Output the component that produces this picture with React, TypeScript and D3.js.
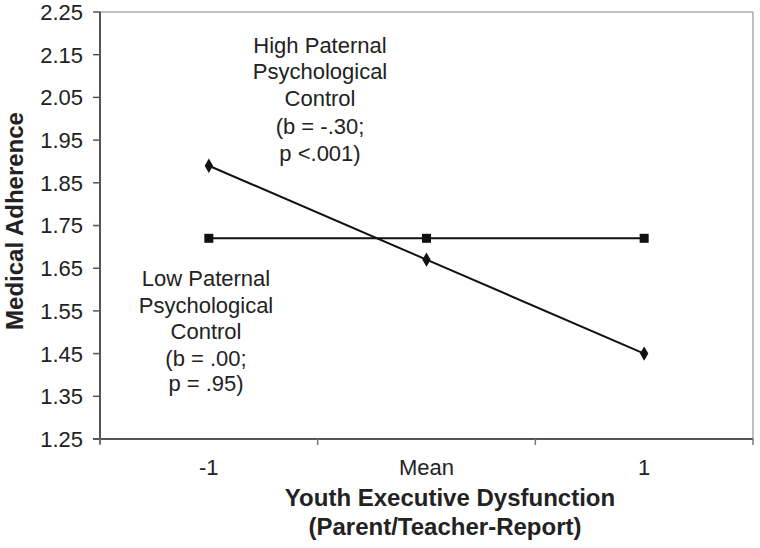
import React from "react";
import * as d3 from "d3";

const categories = ["-1", "Mean", "1"];
const highPaternal = [1.89, 1.67, 1.45];
const lowPaternal = [1.72, 1.72, 1.72];
const yTicks = [1.25, 1.35, 1.45, 1.55, 1.65, 1.75, 1.85, 1.95, 2.05, 2.15, 2.25];
const highLabel = ["High Paternal", "Psychological", "Control", "(b = -.30;", "p <.001)"];
const lowLabel = ["Low Paternal", "Psychological", "Control", "(b = .00;", "p = .95)"];
const highLabelY = [45, 71, 98, 126, 153];
const lowLabelY = [278, 305, 331, 358, 383];

export default function App() {
  const W = 760, H = 548;
  const left = 100, right = 753, top = 12, bottom = 439;
  const x = d3.scaleBand<string>().domain(categories).range([left, right]);
  const y = d3.scaleLinear().domain([1.25, 2.25]).range([bottom, top]);
  const cx = (c: string) => (x(c) as number) + x.bandwidth() / 2;
  const line = d3.line<number>().x((_, i) => cx(categories[i])).y((d) => y(d));
  const font = "Liberation Sans, Arial, sans-serif";
  const txt = "#222";
  const boundaries = [left, ...categories.map((c) => (x(c) as number) + x.bandwidth())];
  const diamond = d3.symbol().type(d3.symbolDiamond).size(60)() as string;
  return (
    <svg width={W} height={H} style={{ position: "absolute", left: 0, top: 0, background: "#fff" }}>
      {/* frame */}
      <line x1={left} x2={right} y1={top} y2={top} stroke="#aaa" strokeWidth={1.5} />
      <line x1={right} x2={right} y1={top} y2={bottom} stroke="#aaa" strokeWidth={1.5} />
      {/* y axis */}
      <line x1={left} x2={left} y1={top} y2={bottom + 5} stroke="#555" strokeWidth={2} />
      {yTicks.map((t) => (
        <g key={t}>
          <line x1={left - 7} x2={left} y1={y(t)} y2={y(t)} stroke="#555" strokeWidth={1.5} />
          <text x={83} y={y(t)} dy="0.36em" textAnchor="end" fontFamily={font} fontSize={22} fill={txt}>
            {t.toFixed(2)}
          </text>
        </g>
      ))}
      {/* x axis */}
      <line x1={left - 7} x2={right} y1={bottom} y2={bottom} stroke="#555" strokeWidth={2} />
      {boundaries.map((b, i) => (
        <line key={i} x1={b} x2={b} y1={bottom} y2={bottom + 6} stroke="#777" strokeWidth={1.5} />
      ))}
      {categories.map((c) => (
        <text key={c} x={cx(c)} y={467} dy="0.36em" textAnchor="middle" fontFamily={font} fontSize={22} fill={txt}>
          {c}
        </text>
      ))}
      {/* axis titles */}
      <text x={450} y={497} dy="0.36em" textAnchor="middle" fontFamily={font} fontSize={24} fontWeight="bold" fill={txt}>
        Youth Executive Dysfunction
      </text>
      <text x={445} y={526} dy="0.36em" textAnchor="middle" fontFamily={font} fontSize={24} fontWeight="bold" fill={txt}>
        (Parent/Teacher-Report)
      </text>
      <text
        transform="translate(14,221) rotate(-90)"
        dy="0.36em"
        textAnchor="middle"
        fontFamily={font}
        fontSize={24}
        fontWeight="bold"
        fill={txt}
      >
        Medical Adherence
      </text>
      {/* series */}
      <path d={line(lowPaternal) as string} fill="none" stroke="#111" strokeWidth={2} />
      <path d={line(highPaternal) as string} fill="none" stroke="#111" strokeWidth={2} />
      {lowPaternal.map((v, i) => (
        <rect key={i} x={cx(categories[i]) - 4.5} y={y(v) - 4.5} width={9} height={9} fill="#111" />
      ))}
      {highPaternal.map((v, i) => (
        <path key={i} d={diamond} transform={`translate(${cx(categories[i])},${y(v)})`} fill="#111" />
      ))}
      {/* annotations */}
      {highLabel.map((s, i) => (
        <text key={s} x={320} y={highLabelY[i]} dy="0.36em" textAnchor="middle" fontFamily={font} fontSize={22} fill={txt}>
          {s}
        </text>
      ))}
      {lowLabel.map((s, i) => (
        <text key={s} x={206} y={lowLabelY[i]} dy="0.36em" textAnchor="middle" fontFamily={font} fontSize={22} fill={txt}>
          {s}
        </text>
      ))}
    </svg>
  );
}
